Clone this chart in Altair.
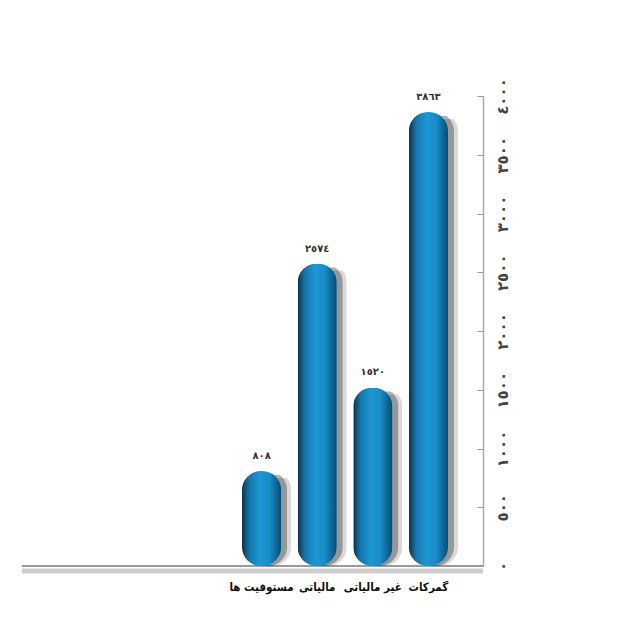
import altair as alt
import pandas as pd

categories = ["مستوفیت ها", "مالیاتی", "غیر مالیاتی", "گمرکات"]
values = [808, 2574, 1520, 3863]
value_labels = ["٨٠٨", "٢٥٧٤", "١٥٢٠", "٣٨٦٣"]
y_ticks = [0, 500, 1000, 1500, 2000, 2500, 3000, 3500, 4000]
y_tick_labels = ["٠", "٥٠٠", "١٠٠٠", "١٥٠٠", "٢٠٠٠", "٢٥٠٠", "٣٠٠٠", "٣٥٠٠", "٤٠٠٠"]

df = pd.DataFrame({"cat": categories, "value": values, "label": value_labels})

FONT = "DejaVu Sans"
LFONT = "DejaVu Sans Condensed, DejaVu Sans"
xscale = alt.Scale(domain=categories, range=[220, 426], paddingInner=0.296, paddingOuter=0)
yscale = alt.Scale(domain=[0, 4000])

label_expr = "[" + ",".join(f"'{t}'" for t in y_tick_labels) + "][round(datum.value/500)]"

x_enc = alt.X(
    "cat:N", scale=xscale, sort=categories, title=None,
    axis=alt.Axis(labelFont=LFONT, labelFontSize=11.5, labelFontWeight="bold", labelColor="#111",
                  labelAngle=0, labelPadding=15, ticks=False, domain=False,
                  labelOverlap=False, labelLimit=200),
)
y_right = alt.Y(
    "value:Q", scale=yscale, title=None,
    axis=alt.Axis(orient="right", values=y_ticks, labelExpr=label_expr, labelAngle=270,
                  labelFont=FONT, labelFontSize=15, labelFontWeight="bold", labelColor="#444",
                  labelPadding=12, ticks=False, grid=False, domainColor="#aaaaaa", domainWidth=1.5),
)
y_none = alt.Y("value:Q", scale=yscale, title=None, axis=None)
y_left = alt.Y(
    "value:Q", scale=yscale, title=None,
    axis=alt.Axis(orient="left", offset=-461, values=y_ticks, labels=False, ticks=True,
                  tickSize=6, tickColor="#999999", domain=False, grid=False),
)

gradient = alt.LinearGradient(
    gradient="linear", x1=0, x2=1, y1=0, y2=0,
    stops=[
        alt.GradientStop(color="#08324f", offset=0),
        alt.GradientStop(color="#1276ab", offset=0.18),
        alt.GradientStop(color="#1d97d3", offset=0.45),
        alt.GradientStop(color="#1a8cc6", offset=0.7),
        alt.GradientStop(color="#0b4a72", offset=1),
    ],
)

base = alt.Chart(df)
baseline_shadow = base.mark_rule(color="#000000", opacity=0.05, strokeWidth=5, yOffset=5).encode(
    y=alt.YDatum(0, axis=None))
baseline = base.mark_rule(color="#9a9a9a", strokeWidth=1.5).encode(y=alt.YDatum(0, axis=None))
shadow2 = base.mark_bar(color="#000000", opacity=0.15, cornerRadius=19, xOffset=10, yOffset=7).encode(x=x_enc, y=y_none)
shadow1 = base.mark_bar(color="#000000", opacity=0.3, cornerRadius=19, xOffset=6, yOffset=4).encode(x=x_enc, y=y_none)
bars = base.mark_bar(color=gradient, cornerRadius=19).encode(x=x_enc, y=y_right)
text = base.mark_text(font=FONT, fontSize=10, fontWeight="bold", color="#333333",
                      baseline="bottom", dy=-10).encode(x=x_enc, y=y_left, text="label:N")

chart = (
    alt.layer(baseline_shadow, baseline, shadow2, shadow1, bars, text)
    .resolve_axis(y="independent")
    .properties(width=461, height=470, background="white",
                padding={"left": 14, "top": 88, "right": 140, "bottom": 50},
                autosize=alt.AutoSizeParams(type="none"))
    .configure_view(strokeWidth=0, strokeOpacity=0)
)

chart.save("out.html", embed_options={"renderer": "svg", "actions": False})
